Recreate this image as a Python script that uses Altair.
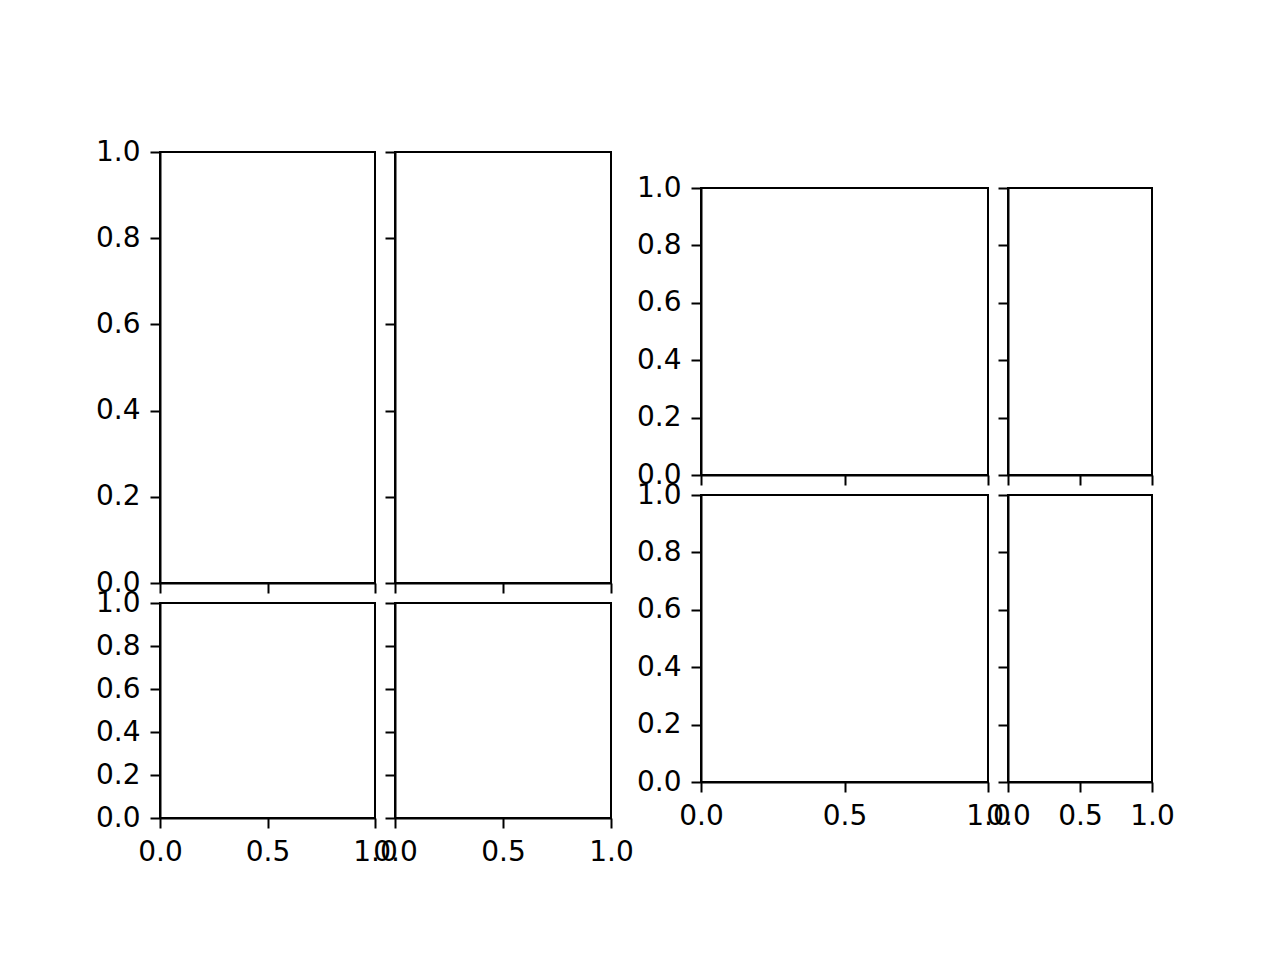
import altair as alt
import pandas as pd

# tick values of every panel
x_ticks = [0.0, 0.5, 1.0]
y_ticks = [0.0, 0.2, 0.4, 0.6, 0.8, 1.0]
# a single invisible anchor point (the axes are empty)
anchor_x = [0.0]
anchor_y = [0.0]

df = pd.DataFrame({"x": anchor_x, "y": anchor_y})
FONT = "DejaVu Sans"


def panel(w, h, xlabels, ylabels):
    xa = alt.Axis(values=x_ticks, labels=xlabels, format=".1f", title=None)
    ya = alt.Axis(values=y_ticks, labels=ylabels, format=".1f", title=None)
    return alt.Chart(df).mark_point(opacity=0).encode(
        x=alt.X("x:Q", scale=alt.Scale(domain=[0, 1], nice=False, zero=False), axis=xa),
        y=alt.Y("y:Q", scale=alt.Scale(domain=[0, 1], nice=False, zero=False), axis=ya),
    ).properties(width=w, height=h)


left = alt.concat(
    panel(215, 431, False, True),
    panel(216, 431, False, False),
    panel(215, 215, True, True),
    panel(216, 215, True, False),
    columns=2, spacing=20, bounds="flush",
)

right = alt.concat(
    panel(287, 287, False, True),
    panel(144, 287, False, False),
    panel(287, 287, True, True),
    panel(144, 287, True, False),
    columns=2, spacing=20, bounds="flush",
)

chart = alt.hconcat(left, right, spacing=0, center=True).properties(
    padding={"left": 86, "top": 129, "right": 10, "bottom": 10},
    background="white",
).configure_axis(
    domainColor="black", domainWidth=2, tickColor="black", tickWidth=2,
    tickSize=10, labelFont=FONT, labelFontSize=28, labelColor="black",
    labelPadding=10, grid=False, labelFlush=False, labelOverlap=False,
).configure_view(stroke="black", strokeWidth=2)

chart.save("out.html", embed_options={"renderer": "svg", "actions": False})
